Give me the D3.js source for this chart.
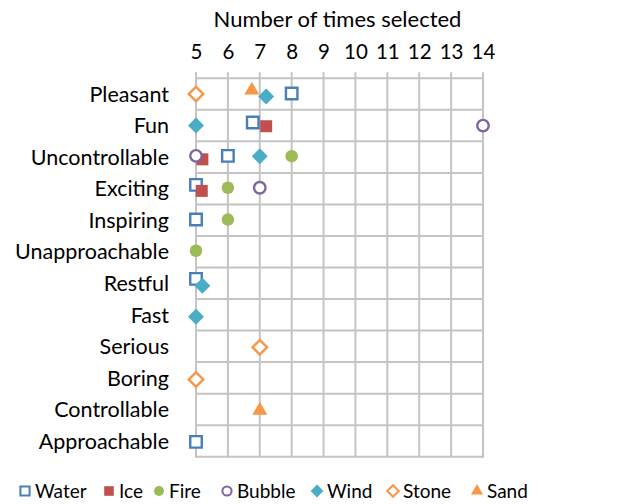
<!DOCTYPE html>
<html>
<head>
<meta charset="utf-8">
<script src="https://cdn.jsdelivr.net/npm/d3@7"></script>
<style>
  body { margin: 0; background: #fff; }
  svg text { font-family: Lato, "Open Sans", sans-serif; fill: #000; }
</style>
</head>
<body>
<div id="chart"></div>
<script>
// categories from top to bottom (row 12 .. row 1)
const categories = ["Pleasant", "Fun", "Uncontrollable", "Exciting", "Inspiring",
  "Unapproachable", "Restful", "Fast", "Serious", "Boring", "Controllable", "Approachable"];
const xTicks = [5, 6, 7, 8, 9, 10, 11, 12, 13, 14];

// each point: [times selected, row value (row centres at n + 0.5, small offsets as drawn)]
const water  = [[8, 11.52], [6.78, 10.6], [6, 9.54], [5, 8.62], [5, 7.52], [5, 5.64], [5, 0.47]];
const ice    = [[7.2, 10.48], [5.2, 9.43], [5.18, 8.43]];
const fire   = [[8, 9.53], [6, 8.53], [6, 7.52], [5, 6.53]];
const bubble = [[14, 10.5], [5, 9.54], [7, 8.53]];
const wind   = [[7.2, 11.42], [5, 10.5], [7, 9.53], [5.2, 5.42], [5, 4.44]];
const stone  = [[5, 11.5], [7, 3.47], [5, 2.45]];
const sand   = [[6.75, 11.62], [7, 1.47]];

const series = [
  { name: "Water",  data: water,  shape: "square",   fill: false, color: "#4A7EBB" },
  { name: "Ice",    data: ice,    shape: "square",   fill: true,  color: "#C0504D" },
  { name: "Fire",   data: fire,   shape: "circle",   fill: true,  color: "#9BBB59" },
  { name: "Bubble", data: bubble, shape: "circle",   fill: false, color: "#8064A2" },
  { name: "Wind",   data: wind,   shape: "diamond",  fill: true,  color: "#4BACC6" },
  { name: "Stone",  data: stone,  shape: "diamond",  fill: false, color: "#F79646" },
  { name: "Sand",   data: sand,   shape: "triangle", fill: true,  color: "#F79646" }
];

const W = 630, H = 504;
const margin = { top: 78.3, left: 196, right: 147, bottom: 47.3 };
const w = W - margin.left - margin.right;
const h = H - margin.top - margin.bottom;

const svg = d3.select("#chart").append("svg")
  .attr("width", W).attr("height", H);

const x = d3.scaleLinear().domain([5, 14]).range([0, w]);
const y = d3.scaleLinear().domain([0, 12]).range([h, 0]);

const g = svg.append("g").attr("transform", `translate(${margin.left},${margin.top})`);

// grid
const gridColor = "#c4c4c4";
g.append("g").selectAll("line").data(d3.range(0, 13)).join("line")
  .attr("x1", 0).attr("x2", w)
  .attr("y1", d => y(d)).attr("y2", d => y(d))
  .attr("stroke", gridColor).attr("stroke-width", 2);

g.append("g").selectAll("line").data(xTicks).join("line")
  .attr("x1", d => x(d)).attr("x2", d => x(d))
  .attr("y1", -6).attr("y2", h + 1)
  .attr("stroke", gridColor).attr("stroke-width", 2);

// x axis on top, labels only
const xAxis = g.append("g")
  .call(d3.axisTop(x).tickValues(xTicks).tickSize(0).tickPadding(19).tickFormat(d3.format("d")));
xAxis.select(".domain").remove();
xAxis.selectAll("text").attr("font-size", 20.5).style("font-family", "Lato, sans-serif").attr("fill", "#000");

svg.append("text")
  .attr("x", margin.left + w / 2 - 2).attr("y", 27)
  .attr("text-anchor", "middle").attr("font-size", 22)
  .text("Number of times selected");

// category labels
svg.append("g").selectAll("text").data(categories).join("text")
  .attr("x", 169)
  .attr("y", (d, i) => margin.top + y(11.5 - i))
  .attr("dy", "0.36em")
  .attr("text-anchor", "end")
  .attr("font-size", 21.5)
  .text(d => d);

function symbolPath(shape, s) {
  if (shape === "square") return d3.symbol(d3.symbolSquare, s * s)();
  if (shape === "circle") return d3.symbol(d3.symbolCircle, Math.PI * s * s / 4)();
  if (shape === "diamond") return d3.symbol(d3.symbolSquare, s * s / 2)();
  return d3.symbol(d3.symbolTriangle, s * s * 0.43)();
}

const markerSize = { square: [12, 11.5], circle: [12.5, 11.5], diamond: [16, 14.5], triangle: [15, 15] };

function drawMarker(sel, sr, scale) {
  const s = markerSize[sr.shape][sr.fill ? 0 : 1] * scale;
  sel.append("path")
    .attr("d", symbolPath(sr.shape, s))
    .attr("transform", sr.shape === "diamond" ? "rotate(45)" : null)
    .attr("fill", sr.fill ? sr.color : "#fff")
    .attr("stroke", sr.color)
    .attr("stroke-width", sr.fill ? 0 : 2.4 * Math.max(scale, 0.85));
}

// points
series.forEach(sr => {
  g.append("g").selectAll("g").data(sr.data).join("g")
    .attr("transform", d => `translate(${x(d[0])},${y(d[1])})`)
    .each(function () { drawMarker(d3.select(this), sr, 1); });
});

// legend
const legendX = [25, 109, 159, 227, 317, 393, 477];
const legend = svg.append("g").attr("transform", "translate(0,491)");
series.forEach((sr, i) => {
  const item = legend.append("g").attr("transform", `translate(${legendX[i]},0)`);
  drawMarker(item, sr, 0.8);
  item.append("text")
    .attr("x", 10).attr("dy", "0.35em")
    .attr("font-size", 19)
    .text(sr.name);
});
</script>
</body>
</html>
